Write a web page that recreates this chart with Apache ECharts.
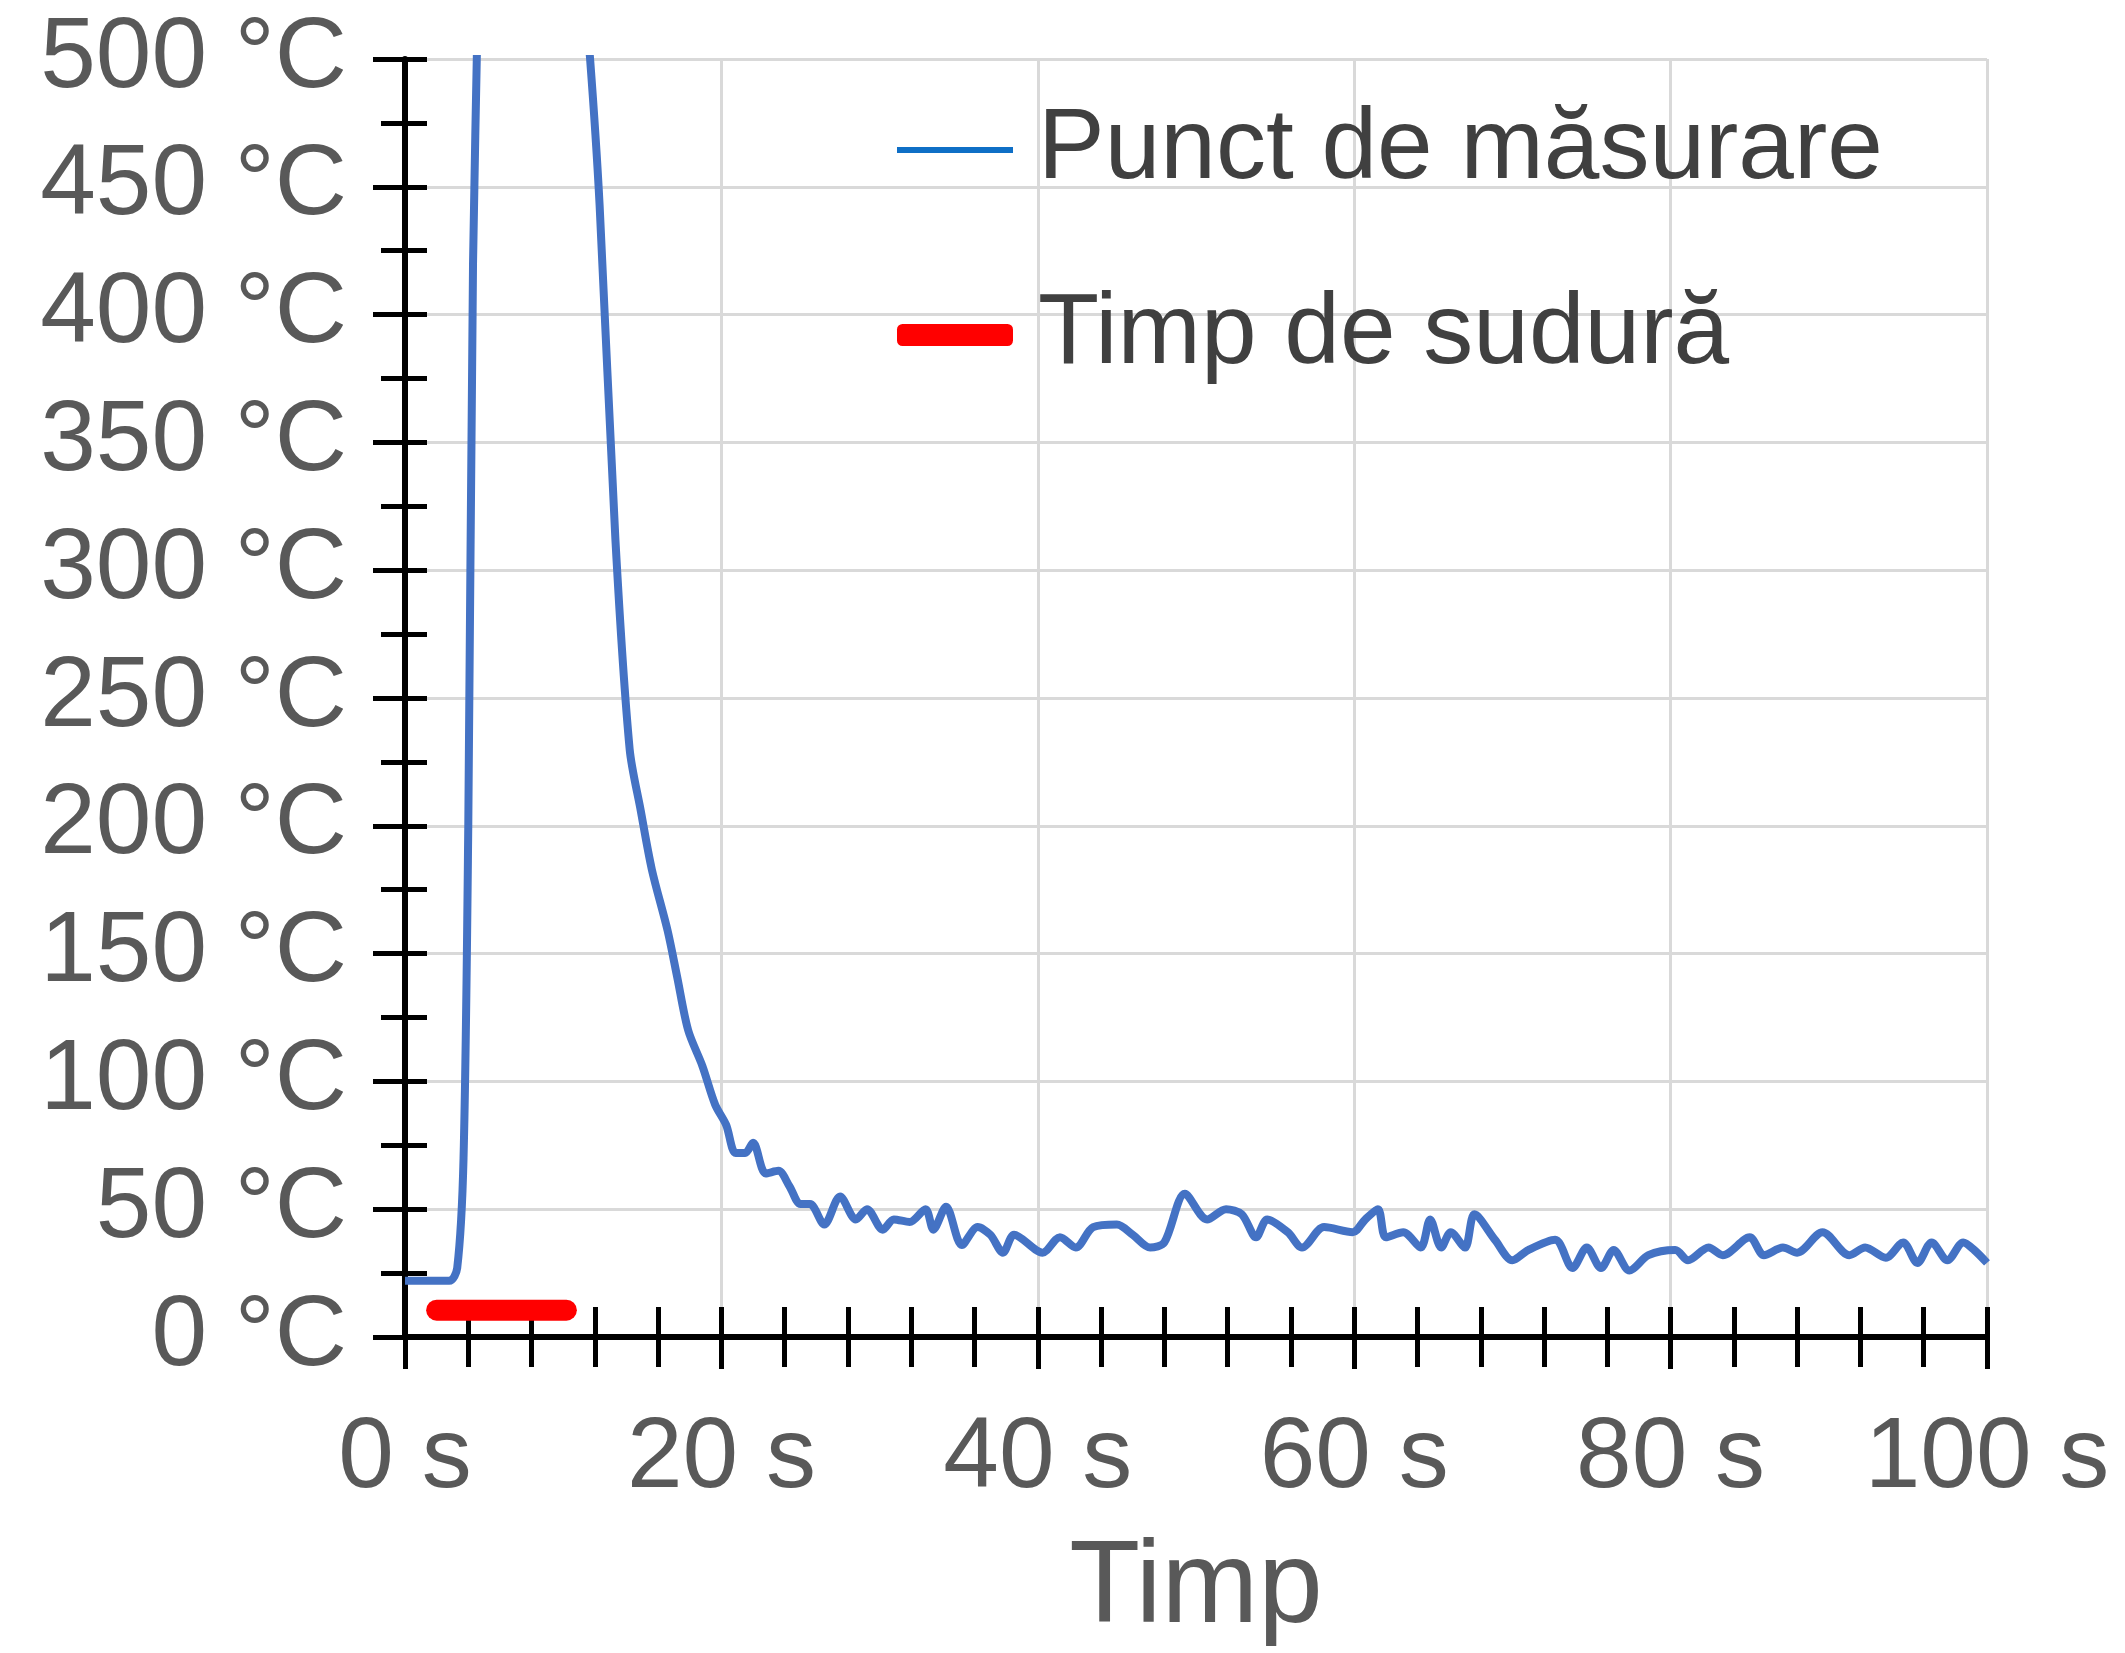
<!DOCTYPE html>
<html><head><meta charset="utf-8">
<script src="https://cdn.jsdelivr.net/npm/echarts@6/dist/echarts.min.js"></script>
<style>html,body{margin:0;padding:0;background:#fff}#c{width:2125px;height:1653px}</style>
</head><body><div id="c"></div>
<script>
const timeS = [0,2.8,3.3,3.7,4.0,4.3,4.6,5,8,11,11.7,12.3,13.3,14.2,14.9,15.6,16.6,17.2,17.9,18.8,19.6,20.3,20.9,21.5,22,22.8,23.6,24.3,25,25.6,26.5,27.5,28.5,29.2,30.2,30.9,31.9,32.9,33.4,34.2,35.2,36.2,37,37.8,38.5,40.3,41.4,42.4,43.5,45,46,47.1,48,49.3,50.7,51.9,52.9,53.8,54.5,55.8,56.7,58.1,59.9,60.7,61.5,62,63.1,64.2,64.8,65.5,66.1,67,67.6,68.9,70,71,72.7,73.8,74.7,75.6,76.4,77.4,78.6,80.3,81.1,82.4,83.3,85,85.9,87.1,88,89.6,91.3,92.3,93.6,94.7,95.6,96.5,97.5,98.5,99.2,100];
const tempC = [22,22,27,70,200,420,520,700,900,550,500,443,312,230,206,183,159,141,120,106,91,83,72,72,76,64,65,59,52,52,44,55,46,50,42,46,45,50,42,51,36,43,40,33,40,33,39,35,43,44,40,35,37,56,46,50,48,39,46,41,35,43,41,46,50,39,41,35,46,35,41,35,48,38,30,34,38,27,35,27,34,26,32,34,30,35,32,39,32,35,33,41,32,35,31,37,29,37,30,37,34,29];
const weldTime = [2.0,10.2];
const weldLevel = 10.5;
const seriesNames = ['Punct de măsurare','Timp de sudură'];
const yTicks = [0,50,100,150,200,250,300,350,400,450,500];
const xTicks = [0,20,40,60,80,100];

const F = 'Liberation Sans';
const lineData = timeS.map((t,i)=>[t,tempC[i]]);
const chart = echarts.init(document.getElementById('c'));
const axisLineS = {show:true,lineStyle:{color:'#000',width:6}};
chart.setOption({
  animation:false,
  grid:{left:405,right:138,top:59,bottom:302},
  legend:{orient:'vertical',left:892,top:95,itemGap:85,itemWidth:116,itemHeight:22,
    textStyle:{fontFamily:F,fontSize:100,color:'#404040',padding:[0,0,0,20]},
    data:[{name:seriesNames[0],icon:'path://M0,8L116,8L116,14L0,14Z',itemStyle:{color:'#0f6fc6'}},
          {name:seriesNames[1],icon:'roundRect',itemStyle:{color:'#ff0000'}}]},
  xAxis:[{type:'value',min:0,max:100,interval:20,
    axisLine:axisLineS,
    axisTick:{show:true,length:32,lineStyle:{color:'#000',width:5}},
    minorTick:{show:true,splitNumber:5,length:30,lineStyle:{color:'#000',width:5}},
    splitLine:{show:true,lineStyle:{color:'#d9d9d9',width:3}},
    axisLabel:{fontFamily:F,fontSize:100,color:'#595959',margin:72,formatter:v=>v+' s'},
    name:'Timp',nameLocation:'middle',nameGap:195,nameTextStyle:{fontFamily:F,fontSize:116,color:'#595959'}},
   {type:'value',min:0,max:100,interval:20,position:'bottom',
    axisLine:{show:false},axisLabel:{show:false},splitLine:{show:false},
    axisTick:{show:true,inside:true,length:30,lineStyle:{color:'#000',width:5}},
    minorTick:{show:true,splitNumber:5,length:30,lineStyle:{color:'#000',width:5}}}],
  yAxis:[{type:'value',min:0,max:500,interval:50,
    axisLine:axisLineS,
    axisTick:{show:true,length:32,lineStyle:{color:'#000',width:5}},
    minorTick:{show:true,splitNumber:2,length:24,lineStyle:{color:'#000',width:5}},
    splitLine:{show:true,lineStyle:{color:'#d9d9d9',width:3}},
    axisLabel:{fontFamily:F,fontSize:100,color:'#595959',margin:58,formatter:v=>v+' °C'}},
   {type:'value',min:0,max:500,interval:50,position:'left',offset:0,
    axisLine:{show:false},axisLabel:{show:false},splitLine:{show:false},
    axisTick:{show:true,inside:true,length:22,lineStyle:{color:'#000',width:5}},
    minorTick:{show:true,splitNumber:2,length:22,lineStyle:{color:'#000',width:5}}}],
  series:[
    {name:seriesNames[0],type:'line',data:lineData,showSymbol:false,smooth:0.3,clip:true,
     lineStyle:{color:'#4472c4',width:8},itemStyle:{color:'#0f6fc6'}},
    {name:seriesNames[1],type:'line',data:weldTime.map(t=>[t,weldLevel]),showSymbol:false,
     lineStyle:{color:'#ff0000',width:21,cap:'round'},itemStyle:{color:'#ff0000'}}
  ]
});
</script></body></html>
